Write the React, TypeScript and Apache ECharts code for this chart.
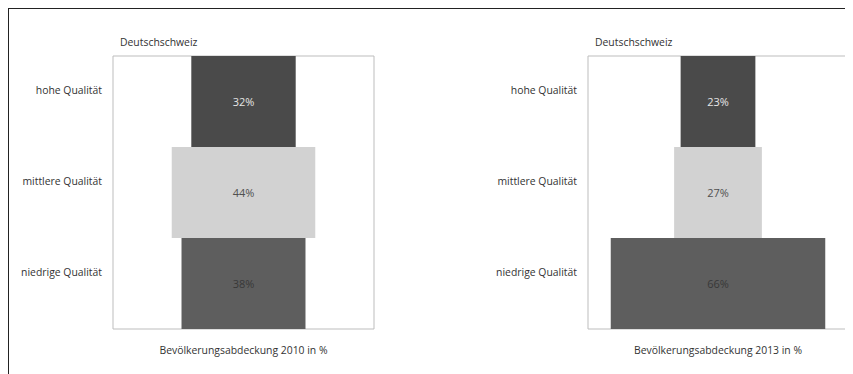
import React, { useEffect, useRef } from "react";
import * as echarts from "echarts";

const categories = ["hohe Qualität", "mittlere Qualität", "niedrige Qualität"];
const values2010 = [32, 44, 38];
const values2013 = [23, 27, 66];
const panelTitles = ["Deutschschweiz", "Deutschschweiz"];
const axisNames = ["Bevölkerungsabdeckung 2010 in %", "Bevölkerungsabdeckung 2013 in %"];
const barColors = ["#4a4a4a", "#d2d2d2", "#5e5e5e"];
const labelColors = ["#e6e6e6", "#505050", "#383838"];

const AXIS_MAX = 80;
const FONT = "'Open Sans', 'Noto Sans', sans-serif";
const FS = 10.4;

export default function App() {
  const ref = useRef<HTMLDivElement>(null);
  useEffect(() => {
    if (!ref.current) return;
    const chart = echarts.init(ref.current, undefined, { renderer: "svg" });
    const grids = [
      { left: 104, top: 47, width: 261, height: 273 },
      { left: 579, top: 47, width: 260, height: 273 },
    ];
    const datasets = [values2010, values2013];
    const series: any[] = [];
    datasets.forEach((vals, i) => {
      series.push({
        type: "bar",
        xAxisIndex: i,
        yAxisIndex: i,
        stack: "s" + i,
        silent: true,
        itemStyle: { color: "transparent" },
        data: vals.map((v) => (AXIS_MAX - v) / 2),
        barCategoryGap: "0%",
      });
      series.push({
        type: "bar",
        xAxisIndex: i,
        yAxisIndex: i,
        stack: "s" + i,
        barCategoryGap: "0%",
        data: vals.map((v, k) => ({
          value: v,
          itemStyle: { color: barColors[k] },
          label: { color: labelColors[k] },
        })),
        label: {
          show: true,
          position: "inside",
          formatter: "{c}%",
          fontFamily: FONT,
          fontSize: 11,
        },
      });
    });
    chart.setOption({
      animation: false,
      title: grids.map((g, i) => ({
        text: panelTitles[i],
        left: g.left + 7,
        top: 28,
        padding: 0,
        textStyle: { fontFamily: FONT, fontSize: FS, fontWeight: "normal", color: "#333" },
      })),
      grid: grids.map((g) => ({
        ...g,
        show: true,
        borderColor: "#bdbdbd",
        borderWidth: 1,
        backgroundColor: "#fff",
      })),
      xAxis: grids.map((g, i) => ({
        type: "value",
        gridIndex: i,
        min: 0,
        max: AXIS_MAX,
        axisLine: { show: false },
        axisTick: { show: false },
        axisLabel: { show: false },
        splitLine: { show: false },
        name: axisNames[i],
        nameLocation: "middle",
        nameGap: 16,
        nameTextStyle: { fontFamily: FONT, fontSize: FS, color: "#333" },
      })),
      yAxis: grids.map((g, i) => ({
        type: "category",
        gridIndex: i,
        inverse: true,
        data: categories,
        axisLine: { show: false },
        axisTick: { show: false },
        splitLine: { show: false },
        axisLabel: {
          margin: 11,
          fontFamily: FONT,
          fontSize: FS,
          color: "#333",
          verticalAlign: "bottom",
          lineHeight: 24,
        },
      })),
      series,
    });
    return () => chart.dispose();
  }, []);
  return (
    <div
      style={{
        width: 845,
        height: 366,
        borderTop: "1px solid #222",
        borderLeft: "1px solid #222",
        boxSizing: "border-box",
      }}
    >
      <div ref={ref} style={{ width: 844, height: 365 }} />
    </div>
  );
}
